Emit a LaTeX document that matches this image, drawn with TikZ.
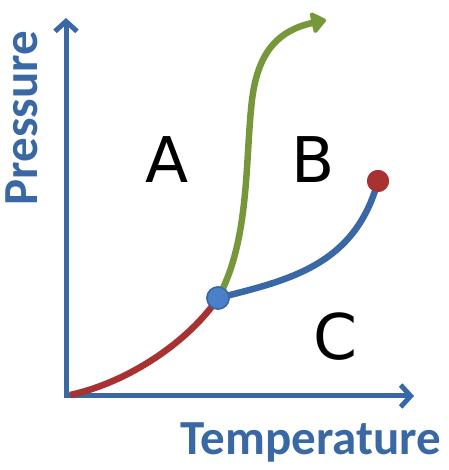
\documentclass[tikz,border=0pt]{standalone}
\usepackage{fontspec}
\setmainfont{DejaVu Sans}
\newfontfamily\labfont{Carlito}
\usetikzlibrary{arrows.meta}
\definecolor{axblue}{RGB}{58,104,164}
\definecolor{cred}{RGB}{168,50,50}
\definecolor{cgreen}{RGB}{118,152,58}
\definecolor{tpfill}{RGB}{74,128,200}
\begin{document}
\begin{tikzpicture}[x=1pt,y=1pt,
  axis/.style={draw=axblue,line width=5pt,-{Straight Barb[length=10pt,width=22pt,line width=5pt]}},
  curve/.style={line width=6.5pt},
  dot/.style={circle,minimum size=22pt,inner sep=0pt,line width=1.5pt},
  region/.style={font=\fontsize{63}{63}\selectfont},
  axlabel/.style={text=axblue,font=\labfont\bfseries\fontsize{49}{49}\selectfont}]
\useasboundingbox (0,0) rectangle (448,470);
\coordinate (O) at (66,74);
\coordinate (Ytop) at (66,452);
\coordinate (Xend) at (414,74);
\draw[axis] ([yshift=-2.5pt]O) -- (Ytop);
\draw[axis] ([xshift=-2.5pt]O) -- (Xend);
\coordinate (R0) at (70,75);
\node[dot,draw=axblue,fill=tpfill] (tp) at (218,172) {};
\node[dot,fill=cred] (cp) at (378,289) {};
\coordinate (gEnd) at (326,450);
\draw[cred,curve] (R0) .. controls (130,88) and (190,130) .. (tp.center);
\draw[axblue,curve] (tp.center) .. controls (290,190) and (355,205) .. (cp.center);
\draw[cgreen,curve,-{Triangle[length=16pt,width=24pt,round]}] (tp.center) .. controls (250,230) and (245,310) .. (252,370) .. controls (258,420) and (280,440) .. (gEnd);
\node[dot,draw=axblue,fill=tpfill] at (tp) {};
\node[dot,fill=cred] at (cp) {};
\node[region] (A) at (167,310) {A};
\node[region] (B) at (313,310) {B};
\node[region] (C) at (335,133) {C};
\node[axlabel,rotate=90,anchor=center] (Pl) at (22,352) {Pressure};
\node[axlabel] (T) at (311,28) {Temperature};
\end{tikzpicture}
\end{document}
